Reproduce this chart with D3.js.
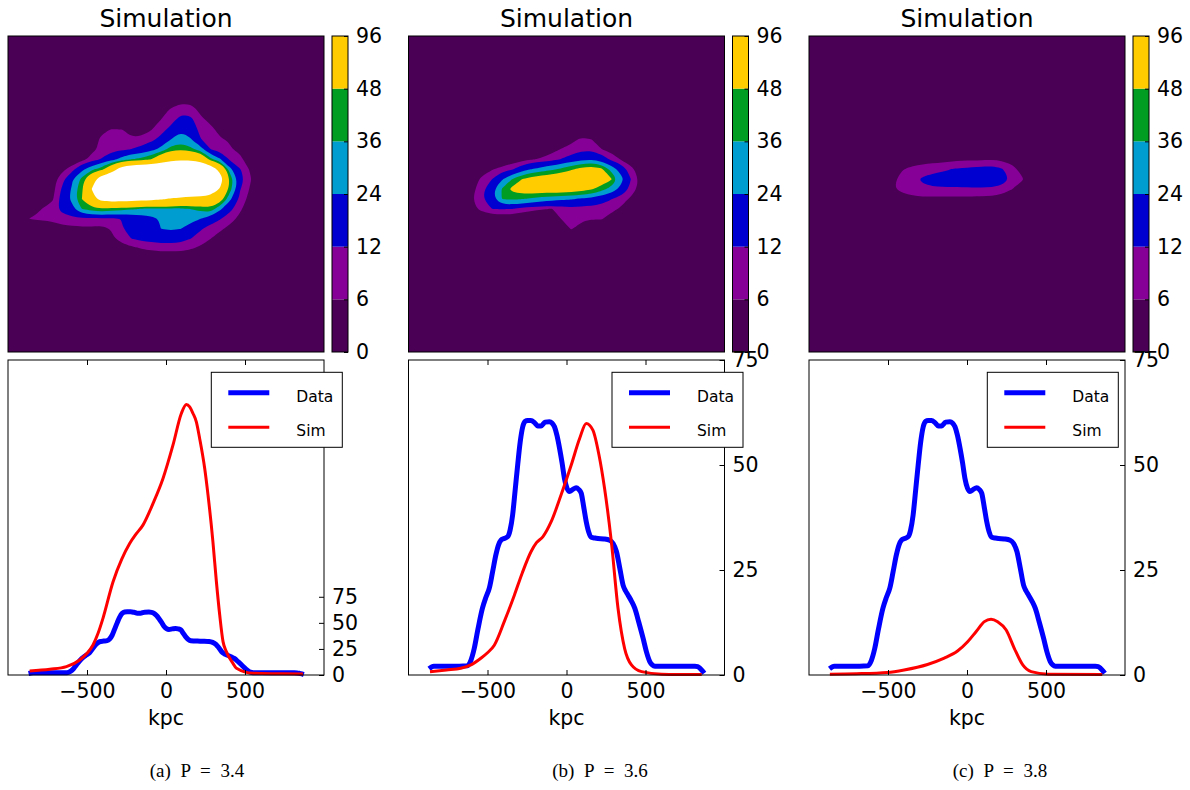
<!DOCTYPE html>
<html><head><meta charset="utf-8">
<script src="https://cdn.jsdelivr.net/npm/d3@7"></script>
<style>
body{margin:0;background:#fff}
svg text{font-family:"DejaVu Sans",sans-serif;fill:#000}
</style>
</head><body>
<svg id="chart" width="1190" height="790"></svg>
<script>
// ---------------- DATA ----------------
const levels = [0, 6, 12, 24, 36, 48, 96];
const levelColors = ["#4a0054", "#860097", "#0000d0", "#009dd0", "#009d22", "#ffcc00", "#ffffff"];
const panelTitles = ["Simulation", "Simulation", "Simulation"];
const captions = ["(a) P = 3.4", "(b) P = 3.6", "(c) P = 3.8"];
const xTicks = [-500, 0, 500];
const yTicks = [0, 25, 50, 75];
const yMax = [302, 75, 75];
const seriesNames = ["Data", "Sim"];

// observed profile (same in every panel)
const dataKpc = [-870,-840,-760,-680,-627,-605,-584,-560,-532,-510,-489,-468,-447,-430,-415,-395,-373,-357,-341,-325,-309,-293,-277,-262,-246,-225,-203,-182,-161,-135,-108,-92,-76,-60,-44,-28,-13,3,19,40,61,77,93,109,125,141,157,180,199,236,273,295,316,337,358,374,390,411,432,458,485,506,527,543,559,650,740,813,830,845,860,872];
const dataVal = [1.5,2.1,2.1,2.1,2.2,3.5,6.3,11,15.9,18.5,20.6,24.5,28.6,31,32.1,32.5,32.9,34.5,38.1,44,50,55.5,59.1,60.4,60.6,60.6,60.1,59.3,59.3,60.2,60.3,60.0,59.1,57,54,50.5,46.8,44.5,43.7,44.2,44.6,44.2,43.3,40,36.5,34,32.8,32.6,32.5,32.4,32.1,31.3,29.4,25.5,21.4,20,19,17.6,15.9,12.5,8.7,5.5,3.2,2.4,2.1,2.1,2.1,2.1,2.0,1.6,1.0,0.4];

// simulated profiles
const simKpcA = [-863,-735,-630,-546,-500,-462,-430,-399,-335,-280,-230,-190,-146,-82,-19,44,97,129,150,171,192,213,245,266,297,319,340,361,382,424,446,551,700,867];
const simValA = [3.8,5.5,8.0,14.4,20.8,28.8,40,54.3,89.4,111,126,135,143.7,164.5,188.4,220.3,250.7,259.3,257,250.7,242.7,226.8,198,172.5,127.7,89.4,57.5,32,22.4,11.2,6.4,1.6,1.2,1.0];
const simKpcB = [-864,-760,-669,-605,-542,-500,-457,-394,-330,-280,-224,-190,-150,-97,-34,30,83,125,167,205,241,284,326,368,411,475,602,856];
const simValB = [0.8,1.2,1.6,2.4,4.0,5.3,7.1,12.7,19.0,24.3,29.4,31.5,32.9,36.5,42.9,50.0,56.3,59.9,58.3,52.5,44.4,31.7,15.9,6.3,2.4,0.8,0.2,0.1];
const simKpcC = [-868,-700,-504,-398,-250,-144,-60,4,57,110,152,194,248,300,353,406,512,856];
const simValC = [0.2,0.3,0.6,1.2,2.5,4.0,5.7,7.9,10.3,12.7,13.3,12.7,10.7,6.3,2.4,0.8,0.2,0.1];

// simulated surface maps on a 32x32 grid: [row, first column, values...]
const fieldA = [
 [6,16,[2,4,4,2]],
 [7,14,[1,3,7,9.5,9,4.5,2]],
 [8,9,[2,3,3,2.5,2.5,3.5,6.1,9,15,14,7.3,4.7,2.5,1]],
 [9,8,[3,5,6.3,6.1,5.5,5,5.8,9,15,22.5,19,9,7.5,4.5,2]],
 [10,7,[2,4,7,8,7.5,6.2,6.6,10,15,24.2,30,25,12.5,9,6.5,5.5,2.5]],
 [11,7,[2,5,7,9,10.5,12.5,15,20,28,42,46,40,30,12.2,8,6.5,4.8,2]],
 [12,6,[1.5,4,8,13,20,28,36.5,40,48.5,70,85,90,90,80,40,25,10,7.5,2.5]],
 [13,4,[1.5,4.5,9,20.6,32.7,43,72,120,135,145,150,150,150,150,150,145,130,80,27,12.5,5.5,2]],
 [14,3,[1,3.5,9.4,22.5,40,77,125,150,160,165,170,170,170,170,170,170,165,150,115,44,15.4,6.7,2.5]],
 [15,3,[1,3.5,13.2,25.7,45.6,97,130,150,160,165,165,165,165,165,160,155,150,140,90.7,40,12.5,5.5,2]],
 [16,3,[1.5,5,15.3,27.4,48.5,85,110,115,115,110,108,105,100,92,85,80,75,70,58,26,9.75,4,1]],
 [17,2,[3,6.2,9,14,20,36.5,42,46,42,40,38,35,34,34,34,33,36.5,40,44,26,14,7,2.5]],
 [18,0,[3,5.5,6.5,7.5,8.5,9.5,10,10,10,10,10.5,12.2,14,18,21,25,28,28,27,24.2,17,12.5,8,4.5,1.5]],
 [19,5,[4,4.5,5,5,4.5,6.5,11.5,14,16,18,24.2,26,24.2,20,13,9,7,4.5,2]],
 [20,9,[3,5,8,12.2,14,15,16,16,15,12.2,9,6.2,3.5,1]],
 [21,10,[2,3.5,4.5,6.2,7,7.5,7.5,7.5,6.5,5,3,1]],
 [22,13,[2,2.5,2.5,2.5,2.5,2,1]]
];
const fieldB = [
 [9,17,[2,2]],
 [10,15,[2,4.5,7,6.2,3.5]],
 [11,13,[2,4,6.5,8,10,10.5,6.3,4,2]],
 [12,10,[2,4,5.7,7,9,12.5,16,21,23.5,18,10.5,5.5,3]],
 [13,6,[1.5,3.5,5.7,8.3,11.4,17.6,24.4,28.9,33.3,39,46.5,53,58,52,32,18.7,7.7,3]],
 [14,5,[1.5,3.5,7.4,12.2,22.9,36.2,48.2,56,60,63,65,66,66,65,60,50,28.5,12.2,4]],
 [15,4,[0.5,2,4.5,9.8,21,37.5,52,58,60,60,60,60,58,55,50,41,31.6,20.4,9.75,3.5]],
 [16,5,[3,5.8,11.5,20,37,38,36.5,33,30,28,26,25,22,20,16,12.5,8.5,5,2]],
 [17,5,[2,4.5,8,12.2,12.5,12.1,9,7.5,6.5,5.8,8,9.5,8.5,9,8.5,7.5,5.3,2]],
 [18,7,[1,1,1,1,1,1,1.5,3,6.2,8,7,6.3,6.5,4,1.5]],
 [19,15,[3,6.5,4,2,1.5]],
 [20,16,[1]]
];
const fieldC = [
 [12,10,[3,3.5,4,4,4.5,5,5,5.3,5.5,5,4,2]],
 [13,8,[3,5.8,7.5,8.5,9.5,10.5,12.3,13,14,14.5,15,12.8,8,4.5,1.5]],
 [14,7,[2,5,8,10,13,15,16,17,17.5,18,18,18,16,11,7,3]],
 [15,7,[2,5.5,8,9.5,10.8,10.8,10.8,10.8,10.8,10.8,10.8,10.8,9.5,6.3,3,1]],
 [16,9,[3,4,4.5,4.5,4.5,4.5,4.5,4.3,4.2,4,3,1.5]]
];

// ---------------- LAYOUT ----------------
const svg = d3.select("#chart");
const W = 316, topY = 36, topH = 316, botY = 360, botH = 315;
const panelX = [8, 408.5, 809];
const legendX = [211.3, 612, 987.3];
const fields = [fieldA, fieldB, fieldC];
const sims = [[simKpcA, simValA], [simKpcB, simValB], [simKpcC, simValC]];
const captionX = [197, 600, 1000];
const N = 32;

function styleAxis(g, size) {
  g.select(".domain").remove();
  g.attr("font-family", null).attr("font-size", null);
  g.selectAll("line").attr("stroke", "#000").attr("stroke-width", 1);
  g.selectAll("text").style("font-size", size + "px").attr("fill", "#000");
}

panelX.forEach((x0, p) => {
  // ---- contour map ----
  const g = svg.append("g");
  const vals = new Array(N * N).fill(0);
  fields[p].forEach(([r, c0, vs]) => vs.forEach((v, i) => { vals[r * N + c0 + i] = v; }));
  const gx = d3.scaleLinear([0, N], [x0, x0 + W]);
  const gy = d3.scaleLinear([0, N], [topY, topY + topH]);
  g.append("rect").attr("x", x0).attr("y", topY).attr("width", W).attr("height", topH).attr("fill", levelColors[0]);
  const contours = d3.contours().size([N, N]).thresholds(levels.slice(1))(vals);
  const ringLine = d3.line().x(q => gx(q[0])).y(q => gy(q[1])).curve(d3.curveBasisClosed);
  contours.forEach((c, i) => {
    const d = c.coordinates.map(poly => poly.map(ring => ringLine(ring.slice(0, -1))).join("")).join("");
    if (d) g.append("path").attr("d", d).attr("fill", levelColors[i + 1]).attr("fill-rule", "evenodd");
  });
  g.append("rect").attr("x", x0).attr("y", topY).attr("width", W).attr("height", topH)
    .attr("fill", "none").attr("stroke", "#000").attr("stroke-width", 1);
  g.append("text").attr("x", x0 + W / 2).attr("y", 27).attr("text-anchor", "middle")
    .style("font-size", "25px").text(panelTitles[p]);

  // ---- colorbar ----
  const cbx = x0 + W + 8, cbw = 16;
  const cy = d3.scaleLinear([0, levels.length - 1], [topY + topH, topY]);
  d3.range(levels.length - 1).forEach(i => {
    g.append("rect").attr("x", cbx).attr("y", cy(i + 1)).attr("width", cbw)
      .attr("height", cy(i) - cy(i + 1)).attr("fill", levelColors[i]);
  });
  g.append("rect").attr("x", cbx).attr("y", topY).attr("width", cbw).attr("height", topH)
    .attr("fill", "none").attr("stroke", "#000").attr("stroke-width", 1);
  const cbAxis = g.append("g").attr("transform", `translate(${cbx + cbw},0)`)
    .call(d3.axisRight(cy).tickValues(d3.range(levels.length)).tickFormat(i => levels[i]).tickSize(-4).tickPadding(8));
  styleAxis(cbAxis, 20.5);

  // ---- profile panel ----
  const b = svg.append("g");
  const x = d3.scaleLinear([-1000, 1000], [x0, x0 + W]);
  const y = d3.scaleLinear([0, yMax[p]], [botY + botH, botY]);
  b.append("rect").attr("x", x0).attr("y", botY).attr("width", W).attr("height", botH).attr("fill", "#fff");
  const line = d3.line().x(d => x(d[0])).y(d => y(d[1])).curve(d3.curveMonotoneX);
  b.append("path").datum(dataKpc.map((k, i) => [k, dataVal[i]])).attr("d", line)
    .attr("fill", "none").attr("stroke", "#0000ff").attr("stroke-width", 5).attr("stroke-linejoin", "round");
  const [sk, sv] = sims[p];
  b.append("path").datum(sk.map((k, i) => [k, sv[i]])).attr("d", line)
    .attr("fill", "none").attr("stroke", "#ff0000").attr("stroke-width", 3).attr("stroke-linejoin", "round");
  b.append("rect").attr("x", x0).attr("y", botY).attr("width", W).attr("height", botH)
    .attr("fill", "none").attr("stroke", "#000").attr("stroke-width", 1);

  const ax1 = b.append("g").attr("transform", `translate(0,${botY + botH})`)
    .call(d3.axisBottom(x).tickValues(xTicks).tickSize(-5).tickPadding(8));
  styleAxis(ax1, 20.5);
  const ax2 = b.append("g").attr("transform", `translate(0,${botY})`)
    .call(d3.axisTop(x).tickValues(xTicks).tickSize(-5).tickFormat(""));
  styleAxis(ax2, 20.5);
  const ay = b.append("g").attr("transform", `translate(${x0 + W},0)`)
    .call(d3.axisRight(y).tickValues(yTicks).tickSize(-5).tickPadding(8));
  styleAxis(ay, 20.5);

  b.append("text").attr("x", x0 + W / 2).attr("y", 725).attr("text-anchor", "middle")
    .style("font-size", "20.5px").text("kpc");

  // legend
  const lx = legendX[p], ly = 372.3;
  b.append("rect").attr("x", lx).attr("y", ly).attr("width", 131).attr("height", 75)
    .attr("fill", "#fff").attr("stroke", "#000").attr("stroke-width", 1);
  const legendItems = [["#0000ff", 5, 20.4], ["#ff0000", 3, 55]];
  legendItems.forEach(([col, sw, dy], i) => {
    b.append("line").attr("x1", lx + 17).attr("x2", lx + 58).attr("y1", ly + dy).attr("y2", ly + dy)
      .attr("stroke", col).attr("stroke-width", sw);
    b.append("text").attr("x", lx + 85).attr("y", ly + dy + 9).style("font-size", "15.5px").text(seriesNames[i]);
  });

  // caption
  svg.append("text").attr("x", captionX[p]).attr("y", 777).attr("text-anchor", "middle")
    .style("font-family", "'Liberation Serif', serif").style("font-size", "19px")
    .style("word-spacing", "5px").text(captions[p]);
});
</script>
</body></html>
